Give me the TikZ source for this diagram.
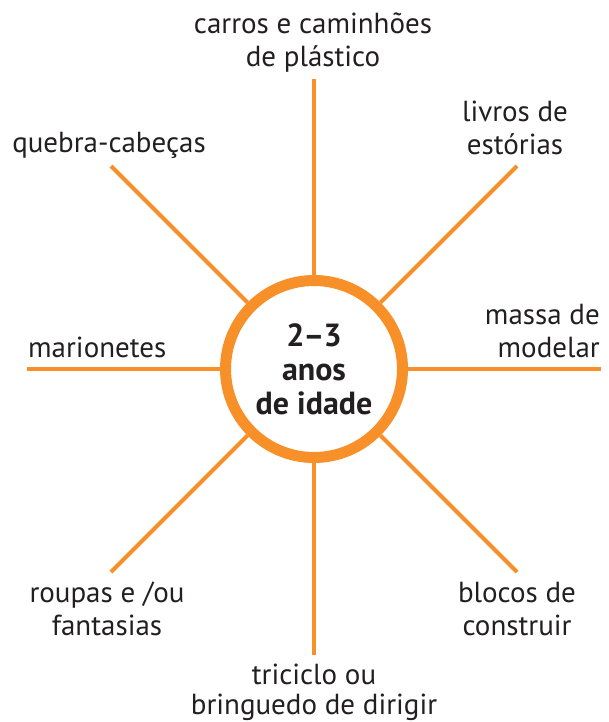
\documentclass[tikz,border=0pt]{standalone}
\usepackage{fontspec}
\setmainfont{PT Sans}
\usetikzlibrary{positioning}
\definecolor{toyorange}{RGB}{247,144,41}
\definecolor{toytext}{RGB}{35,31,32}
\tikzset{hub/.style = {circle, draw = toyorange, line width = 11, fill = white, minimum size = 177, inner sep = 0, text = toytext, align = center, font = \fontsize{32}{34}\selectfont\bfseries}}
\tikzset{spoke/.style = {draw = toyorange, line width = 4}}
\tikzset{lbl/.style = {inner sep = 0, text = toytext, font = \fontsize{29}{33}\selectfont}}

\begin{document}
\begin{tikzpicture}[x = 1pt, y = -1pt]
    \useasboundingbox (0, 0) rectangle (608, 722);

    \node [hub] (hub) at (314, 369) {2\kern-1pt--\kern-1pt3\\anos\\de idade};

    \coordinate (top) at (314, 79);
    \coordinate (bot) at (314, 655);
    \coordinate (lft) at (27, 369);
    \coordinate (rgt) at (601, 369);
    \coordinate (ul) at (111, 166);
    \coordinate (ur) at (517, 166);
    \coordinate (ll) at (111, 572);
    \coordinate (lr) at (517, 572);

    \draw [spoke] (hub) -- (top);
    \draw [spoke] (hub) -- (bot);
    \draw [spoke] (hub) -- (lft);
    \draw [spoke] (hub) -- (rgt);
    \draw [spoke] (hub) -- (ul);
    \draw [spoke] (hub) -- (ur);
    \draw [spoke] (hub) -- (ll);
    \draw [spoke] (hub) -- (lr);

    \node [lbl, align = center, anchor = base] (carros) at (313, 67) {carros e caminhões\\de plástico};
    \node [lbl, align = center, anchor = base] (livros) at (515, 155) {livros de\\estórias};
    \node [lbl, anchor = base] (quebra) at (109, 153) {quebra-cabeças};
    \node [lbl, align = right, anchor = base east] (massa) at (600, 357) {massa de\\modelar};
    \node [lbl, anchor = base west] (mario) at (28, 357) {marionetes};
    \node [lbl, align = center, anchor = base] (roupas) at (107, 635) {roupas e /ou\\fantasias};
    \node [lbl, align = center, anchor = base] (blocos) at (517, 635) {blocos de\\construir};
    \node [lbl, align = center, anchor = base] (trici) at (314, 714) {triciclo ou\\[-3pt]bringuedo de dirigir};
\end{tikzpicture}
\end{document}
